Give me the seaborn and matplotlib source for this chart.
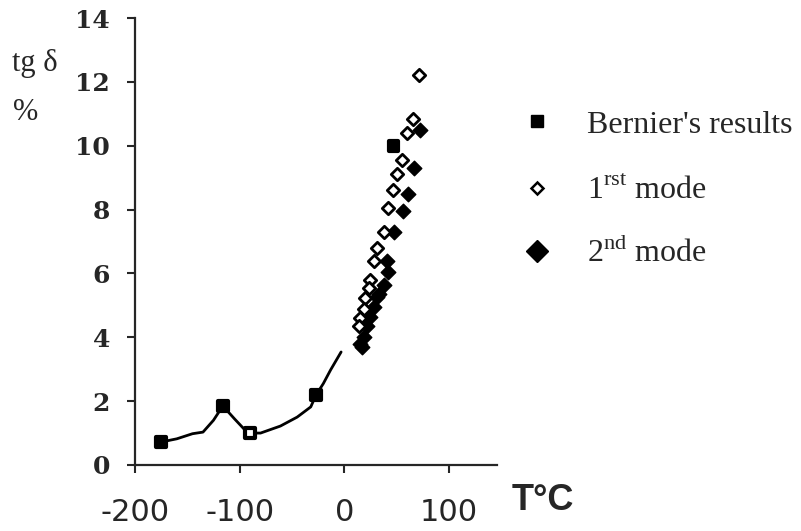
import matplotlib
matplotlib.use("Agg")
import matplotlib.pyplot as plt
from matplotlib.lines import Line2D
import seaborn as sns
import pandas as pd

# Bernier's results (squares) and the drawn curve through them
bernier_t = [-175, -116, -90, -27, 47]
bernier_tg = [0.72, 1.85, 1.0, 2.2, 10.0]
bernier_face = ["black", "black", "white", "black", "black"]

curve_t = [-175, -160, -145, -135, -125, -116, -105, -95, -90, -80, -61, -45, -32, -27, -20, -13, -3]
curve_tg = [0.72, 0.82, 0.98, 1.03, 1.4, 1.85, 1.45, 1.1, 1.0, 1.0, 1.22, 1.5, 1.82, 2.19, 2.55, 2.98, 3.54]

# 1rst mode (open diamonds)
mode1_t = [71, 66, 60, 55, 50.5, 47, 41.5, 38, 31, 28, 25, 23.5, 20, 19, 15.5, 14]
mode1_tg = [12.2, 10.85, 10.4, 9.55, 9.1, 8.6, 8.05, 7.3, 6.8, 6.4, 5.8, 5.55, 5.22, 4.9, 4.6, 4.35]

# 2nd mode (filled diamonds)
mode2_t = [72, 67, 61, 56, 48, 41, 42, 38, 33, 31, 28, 25, 22, 19, 17, 15]
mode2_tg = [10.5, 9.3, 8.5, 7.95, 7.3, 6.4, 6.05, 5.65, 5.35, 5.25, 4.95, 4.65, 4.35, 4.0, 3.7, 3.8]

x_ticks = [-200, -100, 0, 100]
y_ticks = [0, 2, 4, 6, 8, 10, 12, 14]

sns.set_style("ticks")
plt.rcParams["mathtext.fontset"] = "custom"
plt.rcParams["mathtext.rm"] = "Liberation Serif"
plt.rcParams["axes.linewidth"] = 1.6

fig = plt.figure(figsize=(8.01, 5.31), dpi=100)
ax = fig.add_axes([0.1685, 0.1243, 0.452, 0.8418])

sns.lineplot(x=curve_t, y=curve_tg, sort=False, color="black", linewidth=2.0, ax=ax)
sns.scatterplot(x=bernier_t, y=bernier_tg, marker="s", s=50, color="black",
                edgecolor="black", linewidth=3.0, ax=ax, zorder=3)
ax.collections[-1].set_facecolors(bernier_face)
sns.scatterplot(x=mode2_t, y=mode2_tg, marker="D", s=55, color="black",
                edgecolor="black", linewidth=1.0, ax=ax, zorder=3)
sns.scatterplot(x=mode1_t, y=mode1_tg, marker="D", s=40, color="white",
                edgecolor="black", linewidth=2.0, ax=ax, zorder=4)

ax.set_xlim(-200, 146)
ax.set_ylim(0, 14)
ax.set_xticks(x_ticks)
ax.set_yticks(y_ticks)
ax.set_xticklabels([f"{t}" for t in x_ticks], family="DejaVu Sans", fontsize=22)
ax.set_yticklabels([f"{t}" for t in y_ticks], family="DejaVu Serif", fontweight="bold", fontsize=18)
ax.tick_params(axis="x", direction="out", length=6, width=1.5, pad=18)
ax.tick_params(axis="y", direction="out", length=6, width=1.5, pad=12)
sns.despine(ax=ax)
ax.set_xlabel("")
ax.set_ylabel("")

fig.text(35 / 801, 1 - 63 / 531, "tg δ", family="Liberation Serif", fontsize=22, ha="center", va="center")
fig.text(26 / 801, 1 - 113 / 531, "%", family="Liberation Serif", fontsize=22, ha="center", va="center")
fig.text(512 / 801, 1 - 500 / 531, "T°C", family="Liberation Sans", fontweight="bold", fontsize=26,
         ha="left", va="center")

# legend: one entry per row so each row sits where the reference has it
handles = [
    Line2D([], [], linestyle="none", marker="s", markersize=8, color="black"),
    Line2D([], [], linestyle="none", marker="D", markersize=6, markerfacecolor="white",
           markeredgecolor="black", markeredgewidth=1.8),
    Line2D([], [], linestyle="none", marker="D", markersize=11, color="black"),
]
labels = ["Bernier's results", r"1$^{\mathrm{rst}}$ mode", r"2$^{\mathrm{nd}}$ mode"]
rows_y = [125, 191, 253]
for h, lab, yy in zip(handles, labels, rows_y):
    leg = fig.legend([h], [lab], loc="center left", bbox_to_anchor=(518 / 801, 1 - yy / 531),
                     frameon=False, prop={"family": "Liberation Serif", "size": 23},
                     handlelength=1.2, handletextpad=0.95, borderaxespad=0, borderpad=0)

fig.savefig("out.png", dpi=100)
